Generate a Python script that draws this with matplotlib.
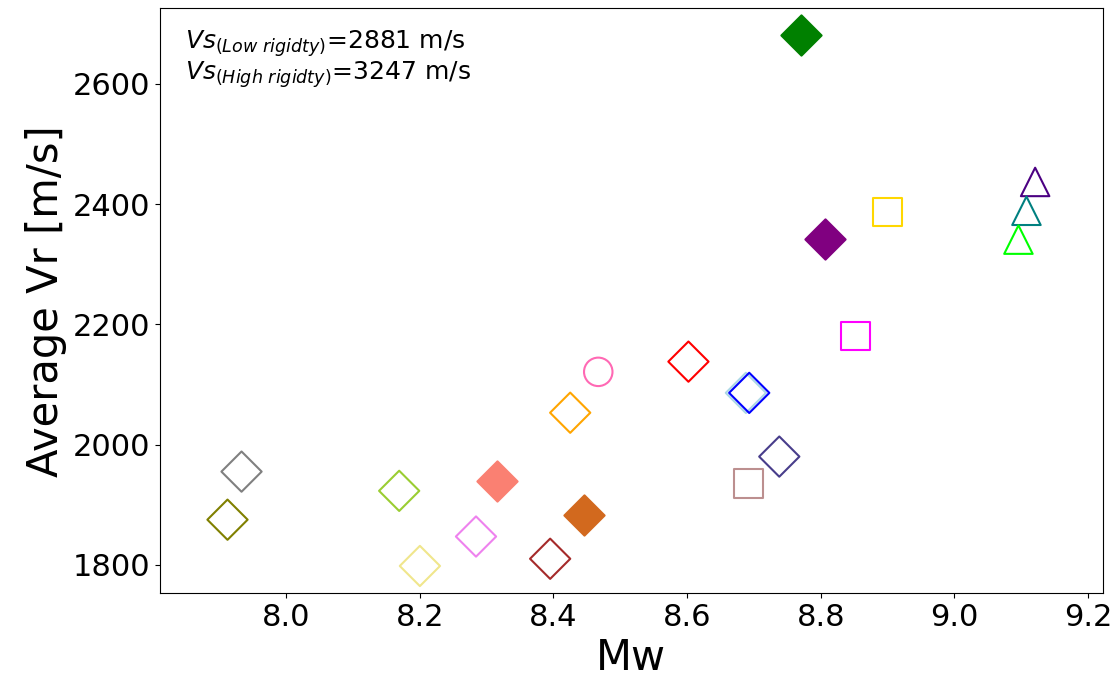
import matplotlib
matplotlib.use("Agg")
from matplotlib import pyplot as plt

# Datos: magnitud Mw y velocidad de ruptura promedio -------------------------------
mw = [7.912, 7.933, 8.169, 8.200, 8.284, 8.316, 8.395, 8.425, 8.445, 8.467,
      8.602, 8.688, 8.693, 8.692, 8.738, 8.771, 8.807, 8.852, 8.900,
      9.121, 9.108, 9.096]
vr = [1875, 1955, 1923, 1798, 1847, 1940, 1810, 2053, 1882, 2121,
      2138, 2086, 2086, 1935, 1980, 2682, 2342, 2181, 2387,
      2437, 2389, 2341]
colores = ["olive", "gray", "yellowgreen", "khaki", "violet", "salmon", "brown",
           "orange", "chocolate", "hotpink", "red", "lightblue", "blue",
           "rosybrown", "darkslateblue", "green", "purple", "magenta", "gold",
           "indigo", "teal", "lime"]
marcadores = ["D", "D", "D", "D", "D", "D", "D", "D", "D", "o",
              "D", "D", "D", "s", "D", "D", "D", "s", "s",
              "^", "^", "^"]
rellenos = [False, False, False, False, False, True, False, False, True, False,
            False, False, False, False, False, True, True, False, False,
            False, False, False]


def grafico_dispersion():
    fig = plt.figure(figsize=(11.16, 6.87), dpi=100)
    ax = fig.add_axes([0.1434, 0.1368, 0.8446, 0.8512])

    for x, y, c, m, f in zip(mw, vr, colores, marcadores, rellenos):
        if f:
            ax.scatter(x, y, s=420, marker=m, color=c, linewidths=1.5)
        else:
            ax.scatter(x, y, s=420, marker=m, facecolors="none",
                       edgecolors=c, linewidths=1.5)

    ax.set_xlim(7.811, 9.222)
    ax.set_ylim(1753, 2726)
    ax.set_xticks([8.0, 8.2, 8.4, 8.6, 8.8, 9.0, 9.2])
    ax.set_yticks([1800, 2000, 2200, 2400, 2600])
    ax.tick_params(labelsize=22)
    ax.set_xlabel("Mw", fontsize=30)
    ax.set_ylabel("Average Vr [m/s]", fontsize=30)

    ax.text(0.027, 0.965,
            r"$Vs_{(Low\ rigidty)}$=2881 m/s" + "\n" +
            r"$Vs_{(High\ rigidty)}$=3247 m/s",
            transform=ax.transAxes, fontsize=18, va="top", ha="left",
            linespacing=1.0)

    fig.savefig("out.png", dpi=100)


def main():
    grafico_dispersion()


if __name__ == '__main__':
    main()
